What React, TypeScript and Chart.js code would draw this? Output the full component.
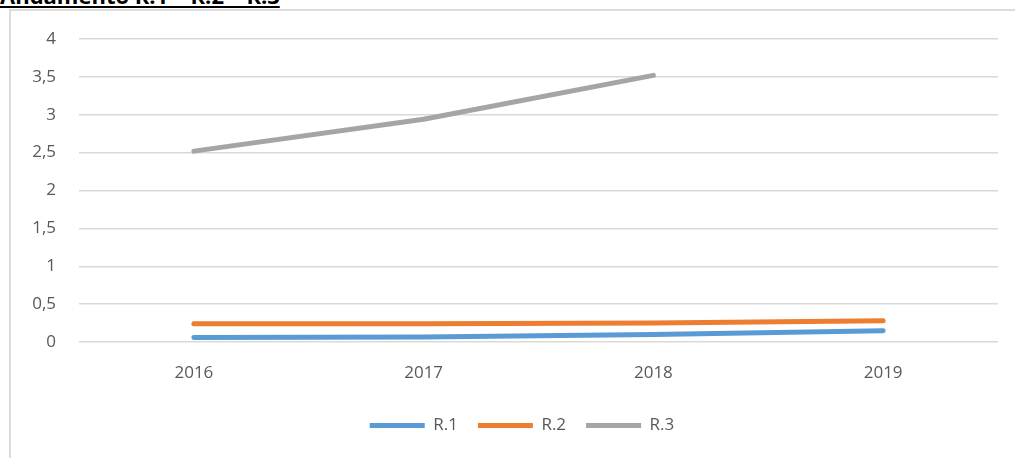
import React, { useEffect, useRef } from "react";
import { Chart, registerables } from "chart.js";

Chart.register(...registerables);

const categories = ["2016", "2017", "2018", "2019"];
const r1Values = [0.06, 0.065, 0.1, 0.15];
const r2Values = [0.24, 0.24, 0.25, 0.28];
const r3Values: (number | null)[] = [2.52, 2.94, 3.52, null];
const seriesNames = ["R.1", "R.2", "R.3"];
const yTicks = [0, 0.5, 1, 1.5, 2, 2.5, 3, 3.5, 4];
const titleText = "Andamento R.1 – R.2 – R.3";

const FONT = "'Open Sans', 'Noto Sans', sans-serif";

const shiftLegend = {
  id: "shiftLegend",
  afterLayout(chart: any) {
    const lg = chart.legend;
    if (lg) {
      lg.left += 23;
      lg.right += 23;
    }
  },
};

export default function App() {
  const canvasRef = useRef<HTMLCanvasElement | null>(null);

  useEffect(() => {
    const canvas = canvasRef.current;
    if (!canvas) return;
    const mk = (label: string, data: (number | null)[], color: string) => ({
      label,
      data,
      borderColor: color,
      backgroundColor: color,
      borderWidth: 5,
      borderCapStyle: "round" as const,
      borderJoinStyle: "round" as const,
      pointRadius: 0,
      pointHoverRadius: 0,
      tension: 0,
      fill: false,
      spanGaps: false,
      pointStyle: "line" as const,
    });
    const chart = new Chart(canvas, {
      type: "line",
      data: {
        labels: categories,
        datasets: [
          mk(seriesNames[0], r1Values, "#5B9BD5"),
          mk(seriesNames[1], r2Values, "#ED7D31"),
          mk(seriesNames[2], r3Values, "#A5A5A5"),
        ],
      },
      plugins: [shiftLegend],
      options: {
        animation: false,
        responsive: false,
        maintainAspectRatio: false,
        layout: { padding: { left: 0, right: 17, top: 39, bottom: 14 } },
        plugins: {
          title: { display: false },
          tooltip: { enabled: false },
          legend: {
            display: true,
            position: "bottom",
            labels: {
              usePointStyle: true,
              pointStyleWidth: 55,
              padding: 20,
              color: "#595959",
              font: { family: FONT, size: 17 },
            },
          },
        },
        scales: {
          x: {
            offset: true,
            grid: { display: false, drawTicks: false },
            border: { display: false },
            ticks: {
              color: "#595959",
              font: { family: FONT, size: 17 },
              padding: 21,
              maxRotation: 0,
            },
            afterFit: (scale: any) => {
              scale.height = 55;
            },
          },
          y: {
            min: 0,
            max: 4,
            afterBuildTicks: (scale: any) => {
              scale.ticks = yTicks.map((v) => ({ value: v }));
            },
            grid: { color: "#D9D9D9", lineWidth: 1.5, drawTicks: false },
            border: { display: false },
            ticks: {
              color: "#595959",
              font: { family: FONT, size: 17 },
              padding: 23,
              callback: (v: any) => String(v).replace(".", ","),
            },
            afterFit: (scale: any) => {
              scale.width = 79;
            },
          },
        },
      },
    });
    return () => chart.destroy();
  }, []);

  return (
    <div
      style={{
        position: "fixed",
        left: 0,
        top: 0,
        width: 1015,
        height: 458,
        overflow: "hidden",
        background: "#fff",
      }}
    >
      <div
        style={{
          position: "absolute",
          left: 9,
          top: 9,
          width: 1100,
          height: 500,
          borderLeft: "2px solid #DCDCDC",
          borderTop: "2px solid #DCDCDC",
        }}
      />
      <div
        style={{
          position: "absolute",
          left: 0,
          top: -15,
          fontFamily: FONT,
          fontWeight: 700,
          fontSize: 22,
          lineHeight: "20px",
          textDecoration: "underline",
          color: "#000",
          whiteSpace: "nowrap",
        }}
      >
        {titleText}
      </div>
      <canvas
        ref={canvasRef}
        width={1015}
        height={458}
        style={{ position: "absolute", left: 0, top: 0, width: 1015, height: 458 }}
      />
    </div>
  );
}
